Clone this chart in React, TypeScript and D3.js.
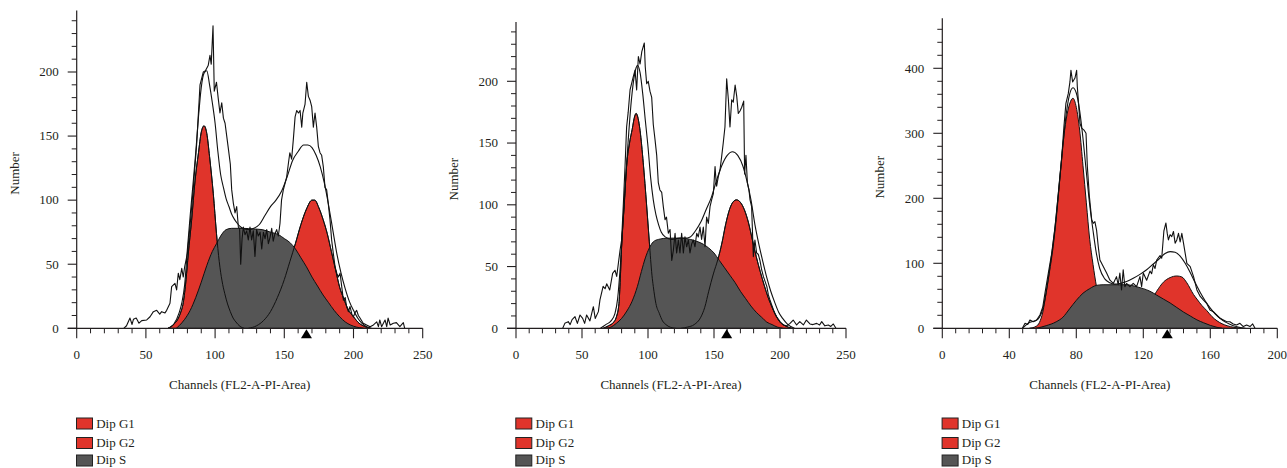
import React from 'react';
import * as d3 from 'd3';

type Pt = [number, number];

// ---------- shared labels ----------
const legendLabels = ['Dip G1', 'Dip G2', 'Dip S'];
const xAxisTitle = 'Channels (FL2-A-PI-Area)';
const yAxisTitle = 'Number';

// ---------- panel 1 ----------
const xTicks1 = [0, 50, 100, 150, 200, 250];
const yTicks1 = [0, 50, 100, 150, 200];
const marker1 = 166;
const raw1: Pt[] = [
  [34, 0], [36, 2], [38.5, 8], [40, 3], [41, 7], [43, 8], [45, 4], [47, 6], [50.6, 6.5], [53, 9], [55.4, 13], [57.8, 14],
  [60, 11], [61.4, 13], [63.8, 12], [65, 14], [67.4, 19.5], [68.6, 32.5], [71, 35], [72.2, 30], [73.4, 43], [74.5, 38],
  [75.9, 46.8], [77, 40], [78, 48], [80, 58.5], [81.9, 80], [84.3, 110], [86.7, 144], [89.1, 190], [91.5, 200], [93, 201],
  [95, 205], [96.3, 213], [97.2, 206], [98.5, 236], [99.4, 185], [101, 192], [102.2, 180], [103.5, 168], [104.8, 176],
  [106, 164], [107.2, 160], [108.4, 150], [109.6, 140], [111, 128], [112, 108], [113.2, 97.5], [114.4, 90], [115.6, 95],
  [116.8, 79], [117.7, 78], [118.5, 50], [119.5, 70], [120.4, 79], [121.6, 73], [122.8, 76], [124, 69], [125.2, 79],
  [126.4, 69], [127.6, 76], [128.8, 56], [130, 77], [131.2, 72], [132.5, 75], [133.7, 62], [134.9, 75], [136.1, 70],
  [137.3, 77], [138.5, 66], [139.7, 71], [140.9, 78], [142, 68], [143.3, 74], [144.5, 77], [145.7, 72], [146.9, 82],
  [148, 100], [149.3, 108], [150.5, 113], [151.7, 118], [153, 129], [154, 137], [155.3, 132], [156.5, 147], [157.8, 165],
  [159, 170], [160.2, 168], [161.4, 170], [162.6, 157], [163.4, 168], [165, 175], [166.2, 192], [167.4, 181], [168.6, 178],
  [169.8, 173], [171, 157], [172.2, 168], [173.4, 157], [174.6, 142], [175.8, 137], [177, 135], [178.2, 126], [179.4, 110],
  [180.6, 108], [181.8, 97], [183, 85], [184.2, 69], [185.4, 58.5], [186.7, 48], [187.9, 43], [189, 40], [190.3, 43],
  [191.5, 32.5], [192.7, 22], [194, 24], [195, 17], [196.3, 13], [197.5, 17], [198.8, 11], [200, 9], [201, 12], [202.3, 14],
  [203.5, 10], [204.7, 8], [207, 4], [209.5, 2.6], [212, 1.3], [214.4, 2.6], [216.8, 5], [218, 1.3], [219, 6.5], [220.3, 1.3],
  [221.6, 4], [222.8, 6.5], [224, 1.3], [225, 8], [226.5, 2.6], [228.8, 4], [231, 4.4], [233.5, 1.3], [236, 4.4], [237, 0],
];
const g1_1: Pt[] = [
  [66, 0], [70, 3], [73, 7], [75, 12], [77, 20], [79, 38], [80.6, 58], [83, 84], [85.5, 115], [88, 137], [90, 153], [92, 158],
  [94, 152], [96, 134], [98.7, 105], [101, 74], [103, 52], [105, 37], [107, 27], [109, 19], [111, 13], [113, 8], [115, 5],
  [118, 1.5], [121, 0],
];
const s1: Pt[] = [
  [72, 0], [74, 2], [78, 7], [82, 14], [86, 24], [90, 36], [94, 49], [98, 60], [101, 66], [104, 72], [108, 77], [112, 78],
  [120, 78], [128, 77.5], [134, 77], [140, 75], [146, 73], [150, 70], [154, 67], [158, 62], [162, 55], [166, 48], [170, 40],
  [174, 33], [178, 26], [182, 20], [186, 14], [190, 9], [194, 5], [198, 2.5], [202, 1], [207, 0],
];
const g2_1: Pt[] = [
  [124, 0], [130, 2], [135, 6], [140, 13], [145, 24], [150, 38], [154, 52], [158, 66], [162, 81], [166, 93], [170, 100],
  [172, 100], [175, 94], [178, 85], [181, 74], [184, 60], [187, 46], [190, 32], [193, 23], [196, 15], [200, 9], [204, 4],
  [208, 1.5], [212, 0],
];
const fit1: Pt[] = [
  [66, 0], [70, 3], [74, 12], [76, 20], [78, 34], [80, 62], [82, 88], [84, 112], [86, 137], [88, 165], [90, 188], [92, 199],
  [94, 201], [96, 190], [98, 176], [100, 160], [102, 138], [104, 120], [106, 110], [108, 101], [110, 95], [112, 89],
  [114, 85], [116, 82], [118, 79.5], [120, 78], [124, 77], [128, 78], [132, 81], [136, 88], [140, 95], [144, 100],
  [148, 107], [152, 118], [156, 131], [160, 138], [164, 143], [167, 143], [170, 141], [173, 135], [176, 126], [179, 113],
  [182, 96], [185, 77], [188, 58], [191, 43], [194, 31], [197, 21], [200, 14], [203, 8], [206, 4], [210, 1], [213, 0],
];

// ---------- panel 2 ----------
const xTicks2 = [0, 50, 100, 150, 200, 250];
const yTicks2 = [0, 50, 100, 150, 200];
const marker2 = 159.6;
const raw2: Pt[] = [
  [35.4, 0], [37, 4], [39.6, 5.4], [41, 3], [42.5, 7], [44.7, 9.4], [46.5, 4], [48.5, 10.8], [50.5, 8], [52, 4], [53.5, 10.8],
  [56, 6], [58.6, 17.5], [60, 8], [62.4, 13.5], [63.6, 23], [66, 34], [67.5, 32], [68.7, 36], [71, 31], [73.2, 44.5],
  [75, 47], [76.3, 42], [78.8, 63], [80, 71.5], [81.3, 100], [82.6, 131], [83.8, 163], [85, 175], [86.4, 193], [88.9, 204],
  [90.2, 209], [91.4, 193], [92.7, 220], [94, 214], [95.3, 224], [97.2, 231], [97.9, 212], [99, 198], [100.2, 200],
  [101.5, 192], [102.8, 187], [104, 165], [105.3, 153], [106.6, 140], [107.8, 118], [109, 112], [110.4, 110], [111.6, 98.5],
  [112.9, 88], [114, 90], [115.4, 77], [116.7, 80], [118, 55], [119.2, 63], [120.5, 77], [121.7, 61], [123, 71.5],
  [124.2, 61], [125.5, 77], [126.8, 61], [128, 74], [129.3, 66], [130.6, 71.5], [131.8, 61], [133, 68], [134.3, 71.5],
  [135.6, 66], [136.9, 77], [138.1, 74], [139.4, 82], [140.6, 72], [141.9, 82], [143.2, 66], [144.4, 90], [145.7, 85],
  [147, 98.5], [148.2, 104], [149.5, 109], [150.8, 131], [151.5, 120], [152, 115], [153.3, 123], [154.5, 128], [155.8, 139],
  [157, 150], [158.3, 163], [159.6, 202], [160.9, 185], [162.1, 163], [163.4, 185], [164.6, 183], [166, 197], [167.2, 188],
  [168.4, 174], [169.7, 176], [171, 179], [172.5, 184], [173.2, 125], [174.2, 140], [175.3, 118], [176.5, 112],
  [177.3, 104], [178.5, 98.5], [179.8, 58], [181, 71.5], [182.3, 61], [183.5, 60], [184.8, 55], [186, 48], [187.4, 42],
  [188.7, 38], [190, 34], [191.2, 27], [192.4, 23], [193.7, 19], [195, 15], [196.2, 12], [197.5, 9.4], [200, 5.4],
  [202.5, 2.7], [205, 2], [207.6, 4], [210, 6.7], [212.6, 2.7], [215, 5.4], [217.7, 2.7], [220, 6.7], [222.7, 3.5],
  [225, 3], [227.8, 4], [230, 2.7], [231.6, 5.4], [234, 2], [236.6, 2.7], [238.5, 1.5], [240.4, 3.5], [242.4, 0],
];
const g1_2: Pt[] = [
  [66, 0], [70, 2], [74, 5], [76, 9], [78, 20], [79, 40], [80, 66], [82, 100], [84, 134], [86, 150], [88, 161], [90, 172],
  [91, 174], [92, 172], [94, 160], [96.4, 134], [99, 99], [101, 70], [103, 43], [104, 34], [106, 20], [108.6, 12], [111, 6],
  [113.6, 3], [117, 0.8], [121, 0],
];
const s2: Pt[] = [
  [68, 0], [72, 1], [76, 4], [80, 8], [84, 14], [88, 22], [92, 34], [95, 46], [98, 57], [101, 65], [104, 70], [108, 72],
  [115, 73], [125, 73], [132, 72], [138, 70], [142, 68], [146, 65], [150, 61], [154, 55], [158, 49], [162, 43], [166, 37],
  [170, 30], [174, 24], [178, 18], [182, 13], [186, 9], [190, 5], [194, 3], [198, 1], [202, 0],
];
const g2_2: Pt[] = [
  [125, 0], [130, 1], [135, 3], [140, 9], [143, 17], [146, 30], [149.5, 44], [153, 56], [156, 69], [159, 85], [162, 97],
  [165, 103], [167, 104], [170, 102], [173, 96], [176, 86], [179, 72], [182, 58], [185, 46], [188, 35], [191, 25],
  [194, 17], [197, 10], [200, 5], [204, 2], [209, 0],
];
const fit2: Pt[] = [
  [64, 0], [68, 3], [72, 6], [75, 12], [77, 24], [79, 50], [81, 85], [83, 120], [85, 152], [87, 180], [89, 200], [91, 211],
  [92, 213], [94, 207], [96, 190], [98, 168], [100, 147], [102, 122], [104, 104], [106, 92], [108, 84], [110, 78],
  [113, 74], [118, 72], [124, 73], [128, 73], [132, 74], [136, 79], [140, 86], [144, 96], [148, 106], [152, 120],
  [156, 132], [160, 140], [164, 143], [168, 140], [172, 131], [175, 119], [178, 104], [181, 84], [184, 68], [187, 54],
  [190, 41], [193, 30], [196, 21], [199, 13], [202, 8], [206, 3], [211, 0],
];

// ---------- panel 3 ----------
const xTicks3 = [0, 40, 80, 120, 160, 200];
const yTicks3 = [0, 100, 200, 300, 400];
const marker3 = 134.3;
const raw3: Pt[] = [
  [47.8, 0], [49.4, 7.7], [51, 6], [52.3, 12.8], [54.3, 10], [56.3, 12.8], [58.3, 20.5], [60, 33], [61.3, 54], [63.3, 85],
  [65.3, 115], [67.3, 156], [69.3, 208], [71.2, 259], [72.6, 310], [73.8, 346], [75.2, 361], [76.2, 379], [76.8, 397],
  [77.8, 379], [79.2, 385], [80.2, 397], [80.6, 372], [81.2, 351], [82.2, 315], [83.2, 308], [84.6, 305], [85.8, 300],
  [86.6, 249], [87.8, 203], [89.2, 167], [90.1, 161.5], [91.1, 164], [92.1, 151], [93.1, 126], [94.1, 105], [96.1, 95],
  [98.1, 85], [100.1, 74], [102.1, 69], [104, 79.5], [105, 67], [106, 85], [107, 59], [108, 90], [109, 64], [110, 69],
  [112, 64], [114, 69], [116, 64], [118, 79.5], [119, 64], [120, 85], [122, 74], [124, 88], [125, 84], [126, 98],
  [127, 92], [128, 105], [130, 112], [131, 108], [132.3, 150], [133.5, 162], [134.3, 146], [135, 136], [136, 144],
  [137, 141], [138, 149], [139, 131], [140, 136], [141, 146], [142, 133], [143, 146], [144, 131], [146, 100], [148, 95],
  [150, 79.5], [152, 59], [154, 49], [155.8, 43.6], [157.8, 38.5], [159.8, 28], [161.8, 25.6], [163.8, 20.5],
  [165.8, 15.4], [167.8, 12.8], [169.8, 10], [171.7, 10], [173.7, 6.7], [175.7, 5], [177.7, 7.7], [179.7, 2.6],
  [181.7, 5], [183.7, 2.6], [185.3, 6.7], [186.7, 0],
];
const g1_3: Pt[] = [
  [52, 0], [56, 3], [58, 9], [60, 25], [62, 55], [64, 87], [66, 122], [68, 168], [70, 225], [72, 282], [74, 322], [76, 345],
  [78, 354], [80, 340], [82, 305], [84, 250], [86, 193], [88, 137], [90, 98], [92, 65], [94, 40], [96, 22], [98, 10],
  [101, 3], [104, 0],
];
const s3: Pt[] = [
  [56, 0], [62, 4], [68, 10], [72, 17], [76, 30], [80, 43], [84, 54], [88, 61], [92, 66], [96, 67], [110, 67], [116, 64],
  [120, 61], [124, 57], [128, 51], [132, 45], [136, 39], [140, 32], [144, 25], [148, 19], [152, 13], [156, 8.5], [160, 4.5],
  [164, 1.5], [167, 0],
];
const g2_3: Pt[] = [
  [104, 0], [110, 4], [116, 12], [120, 24], [124, 40], [128, 57], [132, 71], [136, 78], [140, 80.5], [143, 79], [146, 70],
  [150, 52], [152, 45], [155, 35], [158, 27], [161, 18], [164, 11.5], [167, 7], [170, 4], [174, 1.5], [178, 0],
];
const fit3: Pt[] = [
  [47.8, 0], [50, 5], [52, 9], [56, 12], [58, 17], [60, 30], [62, 55], [64, 90], [66, 127], [68, 172], [70, 228], [72, 282],
  [74, 330], [76, 360], [78, 370], [80, 362], [82, 335], [84, 292], [86, 240], [88, 190], [90, 150], [92, 115], [94, 92],
  [97, 76], [100, 70], [103, 68], [106, 69], [110, 72], [114, 77], [118, 83], [122, 90], [126, 99], [130, 108], [133, 115],
  [136, 118], [139, 117], [142, 111], [145, 100], [148, 86], [151, 70], [154, 55], [157, 42], [160, 31], [163, 22],
  [166, 15], [169, 9.5], [172, 6], [175, 3], [178, 1], [181, 0],
];

// ---------- styles ----------
const RED = '#e0342b';
const GREY = '#555555';
const INK = '#231f20';
const FONT = "'Liberation Serif', 'DejaVu Serif', 'Times New Roman', serif";

type PanelCfg = {
  raw: Pt[]; g1: Pt[]; s: Pt[]; g2: Pt[]; fit: Pt[]; marker: number;
  xTicks: number[]; yTicks: number[];
  xMax: number; yMax: number; xMinor: number; yMinor: number; yMinorMax: number;
  left: number; right: number; top: number; bottom: number; outlines: boolean;
};

const panels: PanelCfg[] = [
  { raw: raw1, g1: g1_1, s: s1, g2: g2_1, fit: fit1, marker: marker1, xTicks: xTicks1, yTicks: yTicks1,
    xMax: 250, yMax: 248, xMinor: 10, yMinor: 10, yMinorMax: 240,
    left: 76.7, right: 422.7, top: 328.3 - 248 * 1.2815, bottom: 328.3, outlines: true },
  { raw: raw2, g1: g1_2, s: s2, g2: g2_2, fit: fit2, marker: marker2, xTicks: xTicks2, yTicks: yTicks2,
    xMax: 250, yMax: 248, xMinor: 10, yMinor: 10, yMinorMax: 240,
    left: 516, right: 846, top: 328.3 - 248 * 1.235, bottom: 328.3, outlines: true },
  { raw: raw3, g1: g1_3, s: s3, g2: g2_3, fit: fit3, marker: marker3, xTicks: xTicks3, yTicks: yTicks3,
    xMax: 200, yMax: 477, xMinor: 8, yMinor: 20, yMinorMax: 460,
    left: 942.3, right: 1277.3, top: 328.3 - 477 * 0.65, bottom: 328.3, outlines: false },
];

function Panel({ p }: { p: PanelCfg }) {
  const x = d3.scaleLinear().domain([0, p.xMax]).range([p.left, p.right]);
  const y = d3.scaleLinear().domain([0, p.yMax]).range([p.bottom, p.top]);
  const area = d3.area<Pt>().x(d => x(d[0])).y0(y(0)).y1(d => y(d[1])).curve(d3.curveMonotoneX);
  const smooth = d3.line<Pt>().x(d => x(d[0])).y(d => y(d[1])).curve(d3.curveMonotoneX);
  const jag = d3.line<Pt>().x(d => x(d[0])).y(d => y(d[1]));
  const xMinorTicks = d3.range(0, p.xMax + 0.001, p.xMinor).filter(v => !p.xTicks.includes(v));
  const yMinorTicks = d3.range(0, p.yMinorMax + 0.001, p.yMinor).filter(v => !p.yTicks.includes(v));
  const y0 = y(0);
  const mx = x(p.marker);
  const legendRows = [
    { label: legendLabels[0], color: RED, top: 418, base: 427.5 },
    { label: legendLabels[1], color: RED, top: 437.5, base: 446.5 },
    { label: legendLabels[2], color: GREY, top: 455, base: 464 },
  ];
  return (
    <g>
      {/* components */}
      <path d={area(p.g1) || ''} fill={RED} stroke="#111" strokeWidth={1} />
      <path d={area(p.g2) || ''} fill={RED} stroke="#111" strokeWidth={1} />
      <path d={area(p.s) || ''} fill={GREY} stroke="#111" strokeWidth={1} />
      {p.outlines && <path d={smooth(p.g1) || ''} fill="none" stroke="#111" strokeWidth={1} />}
      {p.outlines && <path d={smooth(p.g2) || ''} fill="none" stroke="#111" strokeWidth={1} />}
      <path d={smooth(p.fit) || ''} fill="none" stroke="#111" strokeWidth={1.1} />
      <path d={jag(p.raw) || ''} fill="none" stroke="#111" strokeWidth={1.1} strokeLinejoin="round" />

      {/* axes */}
      <line x1={p.left} x2={p.left} y1={p.top} y2={y0} stroke={INK} strokeWidth={1.2} />
      <line x1={p.left - 9} x2={p.right} y1={y0} y2={y0} stroke={INK} strokeWidth={1.2} />
      {p.yTicks.map(v => (
        <g key={'yt' + v}>
          <line x1={p.left - 9} x2={p.left} y1={y(v)} y2={y(v)} stroke={INK} strokeWidth={1.1} />
          <text x={p.left - 18} y={y(v)} dy="0.33em" textAnchor="end" fontSize={13} fill={INK} fontFamily={FONT}>{v}</text>
        </g>
      ))}
      {yMinorTicks.map(v => (
        <line key={'ym' + v} x1={p.left - 5} x2={p.left} y1={y(v)} y2={y(v)} stroke={INK} strokeWidth={1} />
      ))}
      {p.xTicks.map(v => (
        <g key={'xt' + v}>
          <line x1={x(v)} x2={x(v)} y1={y0} y2={y0 + 10} stroke={INK} strokeWidth={1.1} />
          <text x={x(v)} y={358.5} textAnchor="middle" fontSize={13} fill={INK} fontFamily={FONT}>{v}</text>
        </g>
      ))}
      {xMinorTicks.map(v => (
        <line key={'xm' + v} x1={x(v)} x2={x(v)} y1={y0} y2={y0 + 5} stroke={INK} strokeWidth={1} />
      ))}
      <path d={`M${mx},${y0 + 1}L${mx - 5.5},${y0 + 10}L${mx + 5.5},${y0 + 10}Z`} fill="#000" />

      {/* titles */}
      <text x={(p.left + p.right) / 2 - 10} y={389} textAnchor="middle" fontSize={13} fill={INK} fontFamily={FONT}>{xAxisTitle}</text>
      <text transform={`translate(${p.left - 58},${(p.top + p.bottom) / 2 + 4}) rotate(-90)`} textAnchor="middle"
        fontSize={13} fill={INK} fontFamily={FONT}>{yAxisTitle}</text>

      {/* legend */}
      {legendRows.map(r => (
        <g key={r.label}>
          <rect x={p.left - 0.2} y={r.top} width={16} height={11} fill={r.color} stroke="#222" strokeWidth={1} />
          <text x={p.left + 19.5} y={r.base} fontSize={13} fill={INK} fontFamily={FONT}>{r.label}</text>
        </g>
      ))}
    </g>
  );
}

export default function App() {
  return (
    <svg width={1287} height={468} style={{ position: 'absolute', left: 0, top: 0, background: '#fff' }}>
      <rect width={1287} height={468} fill="#fff" />
      {panels.map((p, i) => <Panel key={i} p={p} />)}
    </svg>
  );
}
